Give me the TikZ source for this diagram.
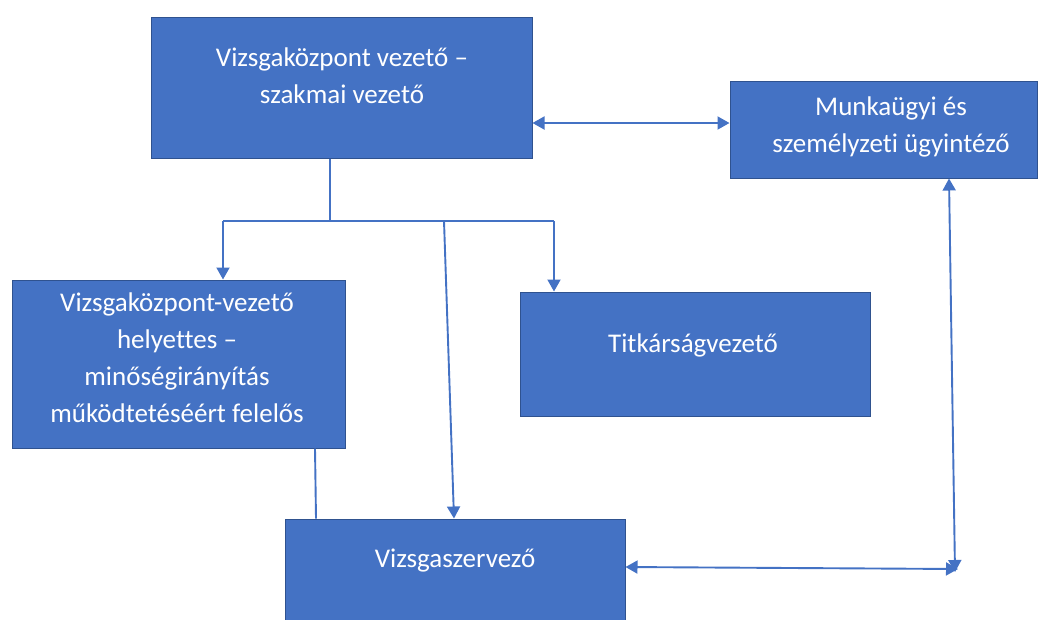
\documentclass[tikz,border=0pt]{standalone}
\usepackage{fontspec}
\setmainfont{Carlito}[Ligatures=NoCommon]
\usetikzlibrary{arrows.meta}
\definecolor{boxblue}{HTML}{4472C4}
\definecolor{boxedge}{HTML}{2F528F}
\definecolor{lineblue}{HTML}{4472C4}
\begin{document}
\begin{tikzpicture}[x=1pt,y=-1pt,
  box/.style={rectangle, fill=boxblue, draw=boxedge, line width=1pt, inner sep=0pt},
  boxtext/.style={text=white, align=center, font=\fontsize{27}{37}\selectfont, inner sep=0pt},
  conn/.style={draw=lineblue, line width=1.9pt},
  tipend/.style={-{Triangle[length=12pt,width=13pt]}},
  tipboth/.style={{Triangle[length=12pt,width=13pt]}-{Triangle[length=12pt,width=13pt]}}]
\useasboundingbox (0,0) rectangle (1043,619);
\clip (0,0) rectangle (1043,619);
% boxes
\node[box, minimum width=381pt, minimum height=141pt] (top) at (341.5,87.5) {};
\node[box, minimum width=307pt, minimum height=97pt] (mun) at (883.5,129.5) {};
\node[box, minimum width=333pt, minimum height=168pt] (hely) at (178.5,364) {};
\node[box, minimum width=350pt, minimum height=124pt] (titk) at (695,354) {};
\node[box, minimum width=340pt, minimum height=141pt] (szerv) at (455,589.5) {};
% texts
\node[boxtext] (topT) at (342,76) {Vizsgaközpont vezető –\\szakmai vezető};
\node[boxtext] (munT) at (891,126.5) {Munkaügyi és\\személyzeti ügyintéző};
\node[boxtext] (helyT) at (177,358) {Vizsgaközpont-vezető\\helyettes –\\minőségirányítás\\működtetéséért felelős};
\node[boxtext] (titkT) at (693,345) {Titkárságvezető};
\node[boxtext] (szervT) at (455,561) {Vizsgaszervező};
% connectors
\coordinate (j) at (330,221);
\coordinate (hl) at (223,221);
\coordinate (hr) at (554,221);
\coordinate (hm) at (444,221);
\coordinate (br) at (958,569);
\coordinate (bv) at (955,572);
\draw[conn] (top.south -| j) -- (j);
\draw[conn] (hl) -- (hr);
\draw[conn,tipend] (hl) -- (hl |- hely.north);
\draw[conn,tipend] (hr) -- (hr |- titk.north);
\draw[conn,tipend] (hm) -- ([xshift=-1pt]szerv.north);
\draw[conn] ([xshift=136.5pt]hely.south) -- ([xshift=-139pt]szerv.north);
\draw[conn,tipboth] ([yshift=-35.5pt]top.east) -- ([yshift=6.5pt]mun.west);
\draw[conn,tipboth] ([yshift=22.5pt]szerv.east) -- (br);
\draw[conn,tipboth] (bv) -- ([xshift=65.5pt]mun.south);
\end{tikzpicture}
\end{document}
